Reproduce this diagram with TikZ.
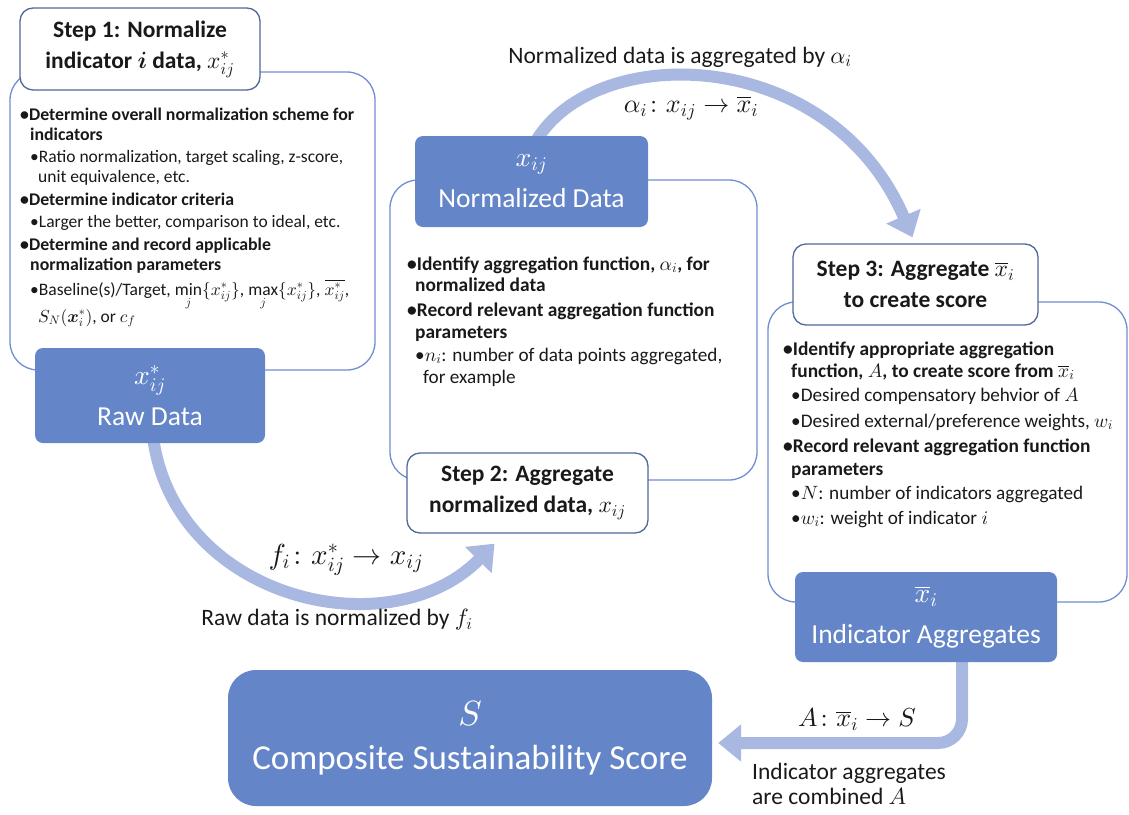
\documentclass[tikz,border=0pt]{standalone}
\usepackage{amsmath}
\usepackage{fontspec}
\setmainfont{Carlito}
\DeclareFontShape{OML}{cmm}{m}{it}{<->cmmi10}{}
\DeclareFontShape{OML}{cmm}{b}{it}{<->cmmib10}{}
\DeclareFontShape{OMS}{cmsy}{m}{n}{<->cmsy10}{}
\DeclareFontShape{OMS}{cmsy}{b}{n}{<->cmbsy10}{}
\DeclareFontShape{OMX}{cmex}{m}{n}{<->cmex10}{}
\DeclareFontShape{OT1}{cmr}{m}{n}{<->cmr10}{}
\DeclareFontShape{OT1}{cmr}{bx}{n}{<->cmbx10}{}
\usetikzlibrary{arrows.meta,backgrounds}
\definecolor{boxblue}{RGB}{100,133,199}
\definecolor{arrowblue}{RGB}{168,184,224}
\definecolor{frameblue}{RGB}{112,142,208}
\definecolor{titleedge}{RGB}{80,104,155}
\definecolor{textdark}{RGB}{25,25,25}
\tikzset{
  frame/.style={draw=frameblue, line width=1.3pt, rounded corners=28pt, inner sep=0pt},
  titlebox/.style={draw=titleedge, line width=1.3pt, fill=white, rounded corners=13pt, align=center,
    inner sep=0pt, text=textdark, font=\fontsize{23.5}{31}\selectfont\bfseries},
  darkbox/.style={fill=boxblue, rounded corners=8pt, text=white, align=center, inner sep=0pt,
    font=\fontsize{27.5}{41}\selectfont},
  flowarrow/.style={draw=arrowblue, line width=12pt, -{Triangle[width=36pt,length=23pt]}},
  lone/.style={anchor=base west, inner sep=0pt, text=textdark, font=\fontsize{17.8}{20}\selectfont\bfseries},
  ltwo/.style={anchor=base west, inner sep=0pt, text=textdark, font=\fontsize{17.5}{20}\selectfont},
  lthree/.style={anchor=base west, inner sep=0pt, text=textdark, font=\fontsize{19.4}{22}\selectfont\bfseries},
  lfour/.style={anchor=base west, inner sep=0pt, text=textdark, font=\fontsize{19.2}{22}\selectfont},
  caption/.style={inner sep=0pt, text=textdark, font=\fontsize{23.5}{25}\selectfont},
  maplabel/.style={inner sep=0pt, text=textdark, font=\fontsize{26}{30}\selectfont}
}
\begin{document}
\begin{tikzpicture}[x=1pt,y=-1pt]
\useasboundingbox (0,0) rectangle (1129,814);
% frames
\node[frame, minimum width=365pt, minimum height=298pt] (f1) at (192.5,221) {};
\node[frame, minimum width=367pt, minimum height=300pt] (f2) at (573.5,330) {};
\node[frame, minimum width=359pt, minimum height=300pt] (f3) at (947.5,452) {};
% title boxes
\node[titlebox, minimum width=240pt, minimum height=82pt] (t1) at (140,49)
  {Step 1: Normalize\\indicator $\boldsymbol{i}$ data, $x^{*}_{ij}$};
\node[titlebox, minimum width=241pt, minimum height=80pt] (t2) at (527.5,493)
  {Step 2: Aggregate\\normalized data, $x_{ij}$};
\node[titlebox, minimum width=245pt, minimum height=81pt] (t3) at (915.5,284.5)
  {Step 3: Aggregate $\overline{x}_{i}$\\to create score};
% dark boxes
\node[darkbox, minimum width=230pt, minimum height=95pt] (raw) at (150,395.5) {$x^{*}_{ij}$\\Raw Data};
\node[darkbox, minimum width=233pt, minimum height=91pt] (nd) at (531.5,181.5) {$x_{ij}$\\Normalized Data};
\node[darkbox, minimum width=262pt, minimum height=90pt] (ia) at (926,617) {$\overline{x}_{i}$\\Indicator Aggregates};
\node[darkbox, rounded corners=28pt, minimum width=484pt, minimum height=136pt, font=\fontsize{35}{44}\selectfont] (comp) at (470,738)
  {$S$\\Composite Sustainability Score};
% arrows
\coordinate (bend) at (962,743);
\begin{scope}[on background layer]
\draw[flowarrow] ([xshift=4pt,yshift=-6pt]nd.north) .. controls (595,40) and (830,45) .. ([xshift=-3pt,yshift=6pt]t3.north);
\draw[flowarrow] ([xshift=3pt,yshift=6pt]raw.south) .. controls (175,600) and (390,650) .. ([xshift=-33pt,yshift=-10pt]t2.south);
\draw[flowarrow, rounded corners=24pt] ([xshift=36pt,yshift=6pt]ia.south) -- (bend) -- ([xshift=6pt,yshift=-5pt]comp.east);
\end{scope}
% arrow labels
\node[caption] (cap1) at (680,57) {Normalized data is aggregated by $\alpha_i$};
\node[maplabel] (map1) at (691,108) {$\alpha_i\colon x_{ij}\rightarrow\overline{x}_{i}$};
\node[maplabel, font=\fontsize{29}{32}\selectfont] (map2) at (346,560) {$f_i\colon x^{*}_{ij}\rightarrow x_{ij}$};
\node[caption] (cap2) at (337,620) {Raw data is normalized by $f_i$};
\node[maplabel] (map3) at (857,720) {$A\colon \overline{x}_{i}\rightarrow S$};
\node[caption, anchor=base west, align=left] (cap3) at (752,804)
  {Indicator aggregates\\are combined $A$};
% step 1 content
\node[lone] (a1) at (20,120) {\textbullet Determine overall normalization scheme for};
\node[lone] (a2) at (30,140) {indicators};
\node[ltwo] (a3) at (30,162) {\textbullet Ratio normalization, target scaling, z-score,};
\node[ltwo] (a4) at (38,182) {unit equivalence, etc.};
\node[lone] (a5) at (20,205) {\textbullet Determine indicator criteria};
\node[ltwo] (a6) at (30,227) {\textbullet Larger the better, comparison to ideal, etc.};
\node[lone] (a7) at (20,250) {\textbullet Determine and record applicable};
\node[lone] (a8) at (30,270) {normalization parameters};
\node[ltwo] (a9) at (30,295) {\textbullet Baseline(s)/Target, $\smash{\mathop{\mathrm{min}}\limits_{j}}\{x^{*}_{ij}\}$, $\smash{\mathop{\mathrm{max}}\limits_{j}}\{x^{*}_{ij}\}$, $\overline{x^{*}_{ij}}$,};
\node[ltwo] (a10) at (38,322) {$S_N(\boldsymbol{x}^{*}_{i})$, or $c_f$};
% step 2 content
\node[lthree] (b1) at (407,270) {\textbullet Identify aggregation function, $\alpha_i$, for};
\node[lthree] (b2) at (415,291) {normalized data};
\node[lthree] (b3) at (407,316) {\textbullet Record relevant aggregation function};
\node[lthree] (b4) at (415,338) {parameters};
\node[lfour] (b5) at (415,361) {\textbullet$n_i$: number of data points aggregated,};
\node[lfour] (b6) at (423,383) {for example};
% step 3 content
\node[lthree] (c1) at (783,355) {\textbullet Identify appropriate aggregation};
\node[lthree] (c2) at (791,377) {function, $A$, to create score from $\overline{x}_i$};
\node[lfour] (c3) at (791,401) {\textbullet Desired compensatory behvior of $A$};
\node[lfour] (c4) at (791,427) {\textbullet Desired external/preference weights, $w_i$};
\node[lthree] (c5) at (783,452) {\textbullet Record relevant aggregation function};
\node[lthree] (c6) at (791,475) {parameters};
\node[lfour] (c7) at (791,499) {\textbullet$N$: number of indicators aggregated};
\node[lfour] (c8) at (791,524) {\textbullet$w_i$: weight of indicator $i$};
\end{tikzpicture}
\end{document}
